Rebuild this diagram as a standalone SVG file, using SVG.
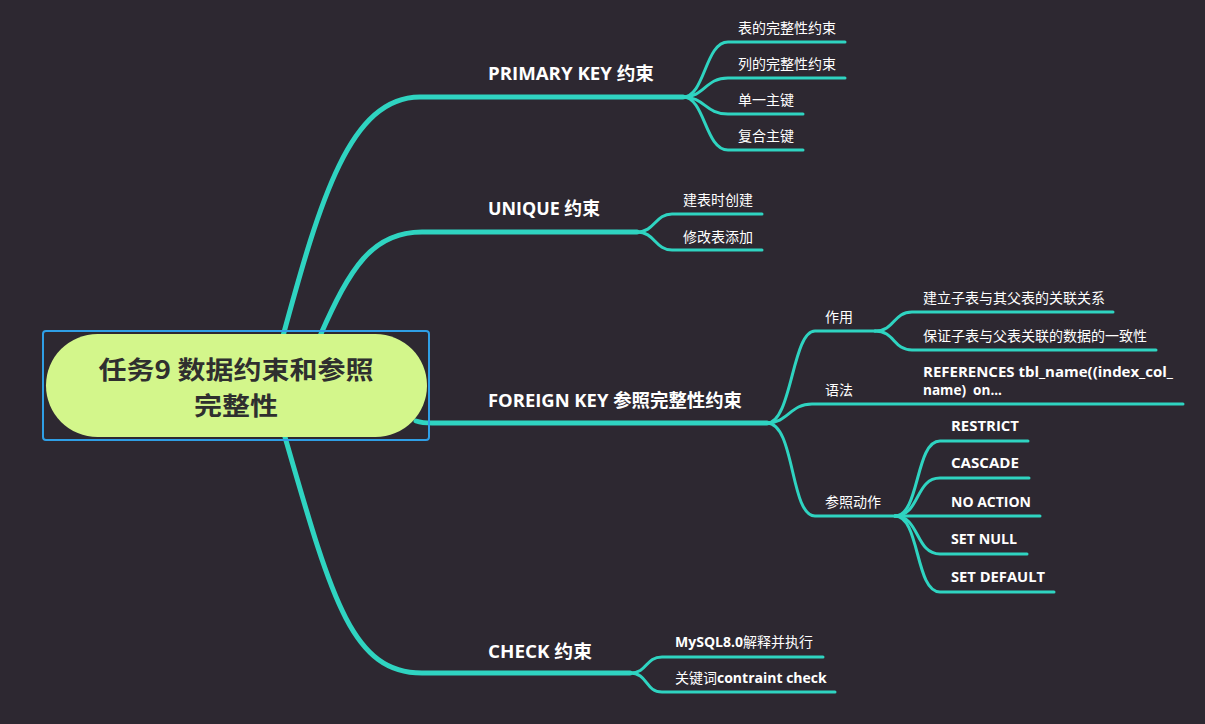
<svg xmlns="http://www.w3.org/2000/svg" width="1205" height="724" viewBox="0 0 1205 724">
<style>
.bg{fill:#2d2831}
.main{fill:none;stroke:#2fd4c1;stroke-width:5;stroke-linecap:round}
.sub{fill:none;stroke:#2fd4c1;stroke-width:3;stroke-linecap:round}
.t1{font-family:"Open Sans","Noto Sans CJK SC",sans-serif;font-weight:700;font-size:18px;fill:#ffffff}
.t2{font-family:"Noto Sans CJK SC",sans-serif;font-size:14px;fill:#ffffff}
.t3{font-family:"Open Sans","Noto Sans CJK SC",sans-serif;font-weight:700;font-size:14px;fill:#ffffff}
.b{font-family:"Open Sans",sans-serif;font-weight:700}
.root{font-family:"Noto Sans CJK SC",sans-serif;font-weight:700;font-size:25px;fill:#2f2f2f}
</style>
<rect class="bg" x="0" y="0" width="1205" height="724"/>
<g id="connectors">
<path class="main" d="M283 336 C 320 200, 350 97, 420 97 L 683 97"/>
<path class="main" d="M320 336 C 350 268, 372 232, 422 232 L 637 232"/>
<path class="main" d="M416 421 C 425 424, 430 423, 440 423 L 767 423"/>
<path class="main" d="M285 437 C 332 600, 352 673, 422 673 L 630 673"/>
<path class="sub" d="M683 97 C 705 97, 705 42, 728 42 L 845 42"/>
<path class="sub" d="M683 97 C 705 97, 705 78, 728 78 L 845 78"/>
<path class="sub" d="M683 97 C 705 97, 705 114, 728 114 L 803 114"/>
<path class="sub" d="M683 97 C 705 97, 705 150, 728 150 L 803 150"/>
<path class="sub" d="M637 232 C 655 232, 655 214, 672 214 L 762 214"/>
<path class="sub" d="M637 232 C 655 232, 655 250, 672 250 L 762 250"/>
<path class="sub" d="M767 423 C 792 423, 792 331, 815 331 L 875 331"/>
<path class="sub" d="M875 331 C 895 331, 893 312, 912 312 L 1113 312"/>
<path class="sub" d="M875 331 C 895 331, 893 350, 912 350 L 1156 350"/>
<path class="sub" d="M767 423 C 788 423, 790 404, 812 404 L 1183 404"/>
<path class="sub" d="M767 423 C 795 423, 790 516, 815 516 L 895 516"/>
<path class="sub" d="M895 516 C 920 516, 915 441, 940 441 L 1028 441"/>
<path class="sub" d="M895 516 C 920 516, 915 478, 940 478 L 1029 478"/>
<path class="sub" d="M895 516 L 1040 516"/>
<path class="sub" d="M895 516 C 920 516, 915 554, 940 554 L 1027 554"/>
<path class="sub" d="M895 516 C 920 516, 915 592, 940 592 L 1054 592"/>
<path class="sub" d="M630 673 C 648 673, 645 657, 662 657 L 823 657"/>
<path class="sub" d="M630 673 C 648 673, 645 692, 662 692 L 835 692"/>
</g>
<g id="root">
<rect x="43" y="331" width="386" height="109" rx="3" fill="none" stroke="#2f9fe6" stroke-width="2"/>
<rect x="46" y="334" width="381" height="103" rx="51.5" fill="#d3f68b"/>
<text class="root" x="236" y="379" text-anchor="middle" textLength="275" lengthAdjust="spacingAndGlyphs">任务9 数据约束和参照</text>
<text class="root" x="236" y="415" text-anchor="middle" textLength="84" lengthAdjust="spacingAndGlyphs">完整性</text>
</g>
<g id="n-primary"><text class="t1" x="488" y="80" textLength="166" lengthAdjust="spacingAndGlyphs">PRIMARY KEY 约束</text></g>
<g id="n-p1"><text class="t2" x="738" y="33">表的完整性约束</text></g>
<g id="n-p2"><text class="t2" x="738" y="69">列的完整性约束</text></g>
<g id="n-p3"><text class="t2" x="738" y="105">单一主键</text></g>
<g id="n-p4"><text class="t2" x="738" y="141">复合主键</text></g>
<g id="n-unique"><text class="t1" x="488" y="215" textLength="112" lengthAdjust="spacingAndGlyphs">UNIQUE 约束</text></g>
<g id="n-u1"><text class="t2" x="683" y="205">建表时创建</text></g>
<g id="n-u2"><text class="t2" x="683" y="242">修改表添加</text></g>
<g id="n-foreign"><text class="t1" x="488" y="407" textLength="254" lengthAdjust="spacingAndGlyphs">FOREIGN KEY 参照完整性约束</text></g>
<g id="n-f1"><text class="t2" x="825" y="322">作用</text></g>
<g id="n-f1a"><text class="t2" x="923" y="303">建立子表与其父表的关联关系</text></g>
<g id="n-f1b"><text class="t2" x="923" y="341">保证子表与父表关联的数据的一致性</text></g>
<g id="n-f2"><text class="t2" x="825" y="395">语法</text></g>
<g id="n-f2a">
<text class="t3" x="923" y="377" textLength="250" lengthAdjust="spacingAndGlyphs">REFERENCES tbl_name((index_col_</text>
<text class="t3" x="923" y="395" textLength="79" lengthAdjust="spacingAndGlyphs" xml:space="preserve">name)  on...</text>
</g>
<g id="n-f3"><text class="t2" x="825" y="507">参照动作</text></g>
<g id="n-f3a"><text class="t3" x="951" y="431" textLength="68" lengthAdjust="spacingAndGlyphs">RESTRICT</text></g>
<g id="n-f3b"><text class="t3" x="951" y="468" textLength="68" lengthAdjust="spacingAndGlyphs">CASCADE</text></g>
<g id="n-f3c"><text class="t3" x="951" y="507" textLength="80" lengthAdjust="spacingAndGlyphs">NO ACTION</text></g>
<g id="n-f3d"><text class="t3" x="951" y="544" textLength="66" lengthAdjust="spacingAndGlyphs">SET NULL</text></g>
<g id="n-f3e"><text class="t3" x="951" y="582" textLength="94" lengthAdjust="spacingAndGlyphs">SET DEFAULT</text></g>
<g id="n-check"><text class="t1" x="488" y="658" textLength="104" lengthAdjust="spacingAndGlyphs">CHECK 约束</text></g>
<g id="n-c1"><text class="t2" x="675" y="647"><tspan class="b">MySQL8.0</tspan>解释并执行</text></g>
<g id="n-c2"><text class="t2" x="675" y="683">关键词<tspan class="b">contraint check</tspan></text></g>
</svg>
